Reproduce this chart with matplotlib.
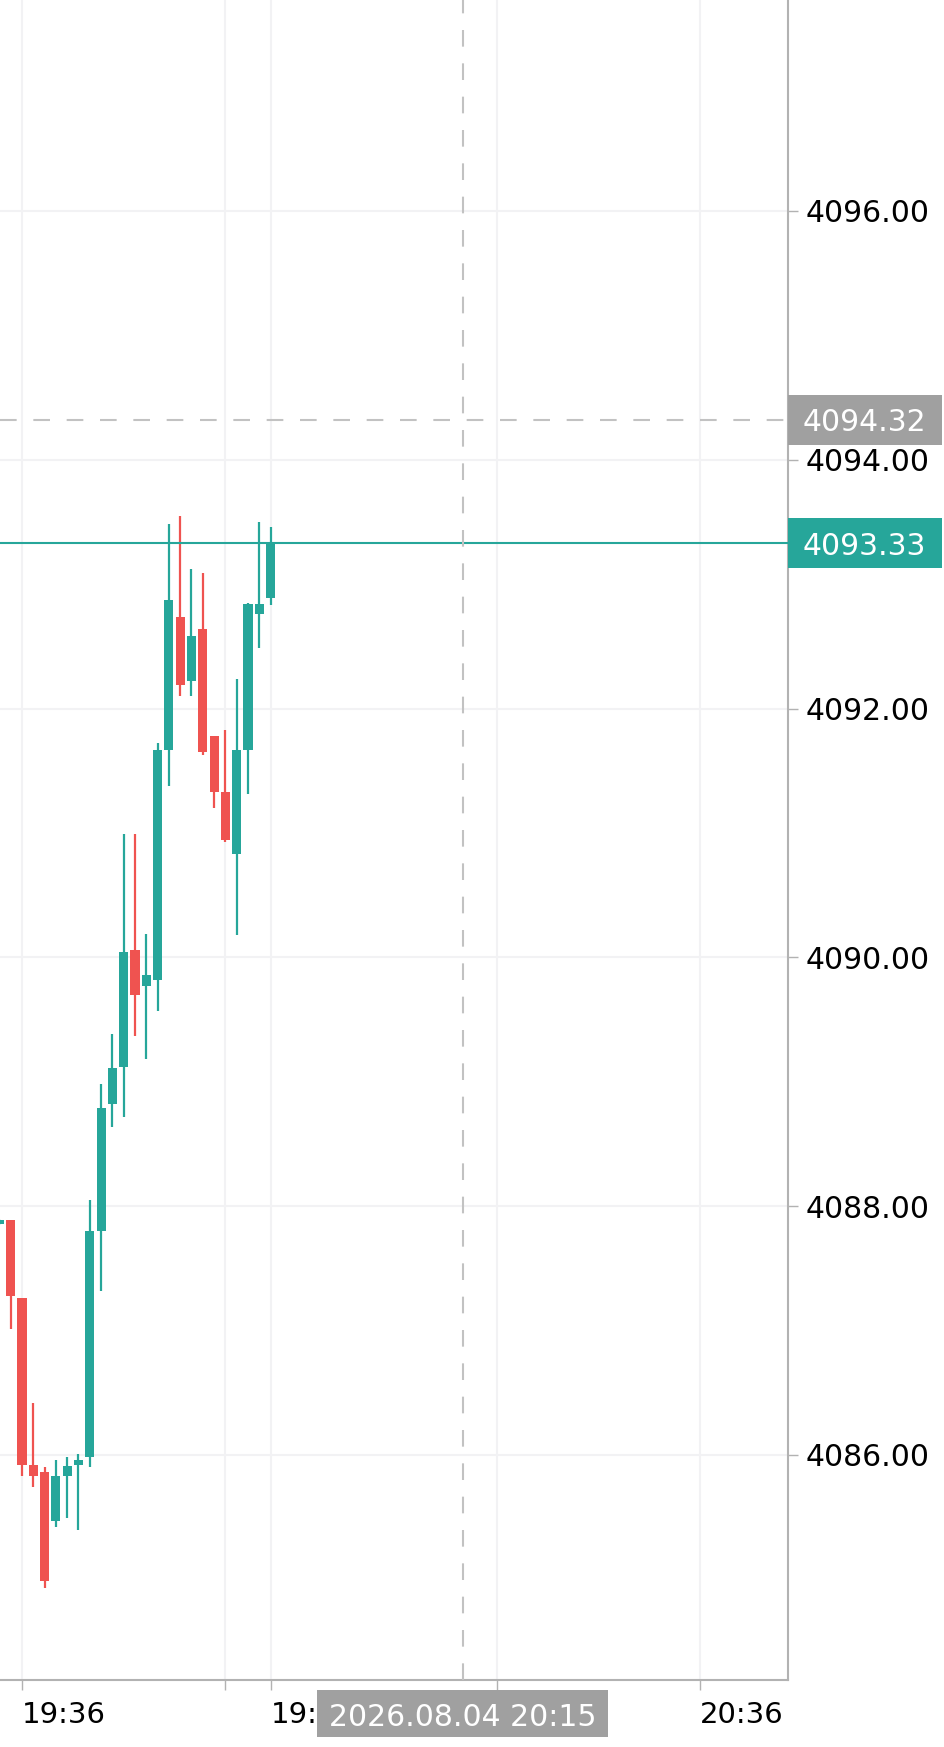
import matplotlib
matplotlib.use("Agg")
import matplotlib.pyplot as plt
import matplotlib.transforms as mtransforms
from matplotlib.patches import Rectangle

# 1-minute candles, x = minutes after 19:36
minutes = list(range(-2, 23))
opens = [4087.86, 4087.89, 4087.26, 4085.92, 4085.86, 4085.47, 4085.83, 4085.92, 4085.98,
         4087.80, 4088.82, 4089.12, 4090.06, 4089.77, 4089.82, 4091.67, 4092.74, 4092.22,
         4092.64, 4091.78, 4091.33, 4090.83, 4091.67, 4092.76, 4092.89]
highs = [4087.90, 4087.89, 4087.26, 4086.42, 4085.90, 4085.96, 4085.98, 4086.01, 4088.05,
         4088.98, 4089.38, 4090.99, 4090.99, 4090.19, 4091.72, 4093.48, 4093.55, 4093.12,
         4093.09, 4091.78, 4091.83, 4092.24, 4092.85, 4093.50, 4093.46]
lows = [4087.85, 4087.01, 4085.83, 4085.74, 4084.93, 4085.42, 4085.49, 4085.40, 4085.90,
        4087.32, 4088.64, 4088.72, 4089.37, 4089.18, 4089.57, 4091.38, 4092.10, 4092.10,
        4091.63, 4091.20, 4090.93, 4090.18, 4091.31, 4092.49, 4092.83]
closes = [4087.89, 4087.28, 4085.92, 4085.83, 4084.99, 4085.83, 4085.91, 4085.96, 4087.80,
          4088.79, 4089.11, 4090.04, 4089.70, 4089.86, 4091.67, 4092.87, 4092.19, 4092.58,
          4091.65, 4091.33, 4090.94, 4091.67, 4092.84, 4092.84, 4093.33]

# the 19:58 label is mostly hidden behind the crosshair label, only "19:" shows
tick_minutes = [0, 18, 22, 42, 60]
tick_labels = ["19:36", "", "19:", "", "20:36"]
price_ticks = [4086, 4088, 4090, 4092, 4094, 4096]

cross_minute = 39
cross_label = "2026.08.04 20:15"
cross_price = 4094.32

UP = "#26a69a"
DOWN = "#ef5350"
AXIS = "#b2b2b2"
GRID = "#f2f2f4"
CROSS = "#c2c2c2"
LABEL_BG = "#a0a0a0"

fig = plt.figure(figsize=(9.45, 17.47), dpi=100)
ax = fig.add_axes([0, 67 / 1747, 788 / 945, 1680 / 1747])

ax.set_xlim(-22 / 11.3, 766 / 11.3)
ax.set_ylim(4084.191, 4097.696)

colors = [UP if c >= o else DOWN for o, c in zip(opens, closes)]
bottoms = [min(o, c) for o, c in zip(opens, closes)]
heights = [max(abs(c - o), 0.02) for o, c in zip(opens, closes)]
ax.vlines(minutes, lows, highs, colors=colors, lw=1.6, zorder=2)
ax.bar(minutes, heights, bottom=bottoms, width=0.8, color=colors, linewidth=0, zorder=3)

# last price line and crosshair
last = closes[-1]
ax.axhline(last, color=UP, lw=1.5, zorder=4)
ax.axhline(cross_price, color=CROSS, lw=1.5, ls=(0, (8, 8)), zorder=4)
ax.axvline(cross_minute, color=CROSS, lw=1.5, ls=(0, (8, 8)), zorder=4)

# axes look
for s in ["top", "left"]:
    ax.spines[s].set_visible(False)
for s in ["right", "bottom"]:
    ax.spines[s].set_color(AXIS)
    ax.spines[s].set_linewidth(1.5)
ax.set_axisbelow(True)
ax.grid(True, color=GRID, lw=1.5)

ax.yaxis.tick_right()
ax.set_yticks(price_ticks)
ax.set_yticklabels([f"{p:.2f}" for p in price_ticks])
ax.set_xticks(tick_minutes)
ax.set_xticklabels(tick_labels)
for lbl in ax.get_xticklabels():
    lbl.set_horizontalalignment("left")
ax.tick_params(axis="y", length=7, width=1, color=AXIS, pad=6, labelsize=21.5)
ax.tick_params(axis="x", length=7, width=1, color=AXIS, pad=8, labelsize=21)

# price labels on the right axis
ytrans = mtransforms.blended_transform_factory(ax.transAxes, ax.transData)
for price, bg in [(cross_price, LABEL_BG), (last, UP)]:
    ax.add_patch(Rectangle((1.0, price - 0.2), 154 / 788, 0.4, transform=ytrans,
                           facecolor=bg, edgecolor="none", clip_on=False, zorder=6))
    ax.text(1 + 15 / 788, price, f"{price:.2f}", transform=ytrans, color="white",
            fontsize=21.5, ha="left", va="center_baseline", clip_on=False, zorder=7)

# time label of the crosshair
xtrans = mtransforms.blended_transform_factory(ax.transData, ax.transAxes)
ax.add_patch(Rectangle((cross_minute - 12.88, -0.03393), 25.76, 0.02798, transform=xtrans,
                       facecolor=LABEL_BG, edgecolor="none", clip_on=False, zorder=6))
ax.text(cross_minute, -0.0203, cross_label, transform=xtrans, color="white", fontsize=21.5,
        ha="center", va="center_baseline", clip_on=False, zorder=7)

fig.savefig("out.png", dpi=100)
